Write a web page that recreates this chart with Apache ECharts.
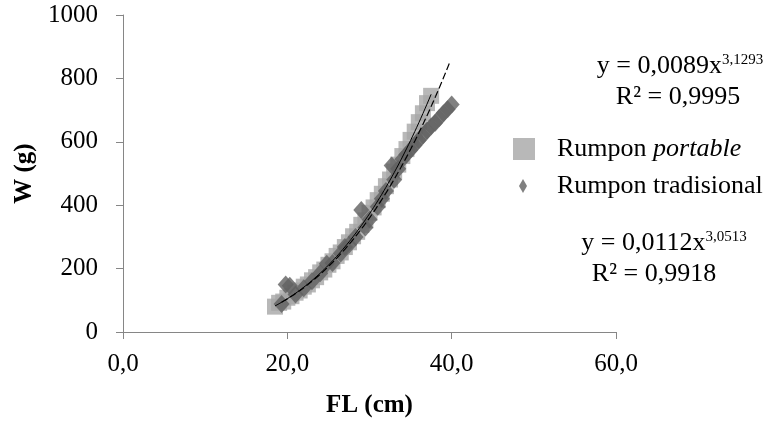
<!DOCTYPE html>
<html>
<head>
<meta charset="utf-8">
<script src="https://cdn.jsdelivr.net/npm/echarts@6/dist/echarts.min.js"></script>
<style>
  html, body { margin: 0; padding: 0; background: #fff; }
  #chart { width: 773px; height: 423px; }
</style>
</head>
<body>
<div id="chart"></div>
<script>
// FL (cm) vs W (g), two kinds of rumpon
var seriesNames = ['Rumpon portable', 'Rumpon tradisional'];

// Rumpon portable (light squares)
var portableFL = [18.5, 19, 19.5, 20, 20.5, 21, 21.5, 22, 22.5, 23, 23.5, 24, 24.5, 25, 25.5, 26, 26.5, 27, 27.5, 28,
  28.5, 29, 29.5, 30, 30.5, 31, 31.5, 32, 32.5, 33, 33.5, 34, 34.5, 35, 35.5, 36, 36.5, 37, 37.5];
var portableW = [80, 92, 96, 108, 113, 124, 131, 143, 150, 163, 173, 188, 197, 212, 223, 240, 251, 268, 283, 302,
  316, 338, 352, 376, 393, 416, 436, 460, 481, 506, 528, 555, 577, 606, 632, 662, 690, 722, 745];

// Rumpon tradisional (dark diamonds)
var tradFL = [19.3, 19.8, 20.3, 21, 22, 23, 24, 24.8, 25.5, 26.5, 27, 27.5, 28.3, 29, 29.5, 30, 31, 31.5, 32, 32.7,
  33, 33.5, 34, 34.5, 35, 35.5, 36, 36.5, 37, 37.5, 38, 38.5, 39, 39.5, 40];
var tradW = [88, 150, 146, 118, 138, 160, 185, 215, 218, 248, 268, 275, 300, 385, 330, 355, 395, 420, 445, 525,
  480, 515, 545, 560, 575, 590, 605, 620, 635, 648, 660, 675, 690, 703, 718];

// power trendlines y = a * x^b as printed on the chart
var fitA = [0.0089, 0.0112];
var fitB = [3.1293, 3.0513];
var fitR2 = ['0,9995', '0,9918'];
var fitFrom = [18.5, 19.3];
var fitTo = [37.5, 40];

var xTicks = [0, 20, 40, 60];
var yTicks = [0, 200, 400, 600, 800, 1000];

function pairs(xs, ys) {
  return xs.map(function(x, i) { return [x, ys[i]]; });
}
function trend(k) {
  var pts = [];
  for (var x = fitFrom[k]; x <= fitTo[k] + 1e-9; x += 0.25) {
    pts.push([x, fitA[k] * Math.pow(x, fitB[k])]);
  }
  return pts;
}
function comma(v, d) {
  return v.toFixed(d).replace('.', ',');
}

var serif = 'Liberation Serif, Times New Roman, serif';
var eqRich = {
  n: { fontFamily: serif, fontSize: 26, fill: '#000', color: '#000' },
  s: { fontFamily: serif, fontSize: 15, fill: '#000', color: '#000', verticalAlign: 'top' }
};
function eqText(k, x, y) {
  return {
    type: 'text', x: x, y: y,
    style: {
      text: '{n|y = ' + comma(fitA[k], 4) + 'x}{s|' + comma(fitB[k], 4) + '}',
      rich: eqRich, align: 'center', verticalAlign: 'middle'
    }
  };
}
function r2Text(k, x, y) {
  return {
    type: 'text', x: x, y: y,
    style: {
      text: 'R² = ' + fitR2[k], font: '26px ' + serif, fill: '#000',
      align: 'center', verticalAlign: 'middle'
    }
  };
}

var chart = echarts.init(document.getElementById('chart'));
chart.setOption({
  animation: false,
  backgroundColor: '#fff',
  grid: { left: 123, right: 157, top: 15, bottom: 88 },
  xAxis: {
    type: 'value',
    min: xTicks[0],
    max: xTicks[xTicks.length - 1],
    interval: 20,
    name: 'FL (cm)',
    nameLocation: 'middle',
    nameGap: 61,
    nameTextStyle: { fontFamily: serif, fontSize: 25, fontWeight: 'bold', color: '#000' },
    axisLine: { lineStyle: { color: '#868686', width: 1 } },
    axisTick: { show: true, length: 7, lineStyle: { color: '#868686' } },
    splitLine: { show: false },
    axisLabel: {
      margin: 20,
      fontFamily: serif, fontSize: 25, color: '#000',
      formatter: function(v) { return comma(v, 1); }
    }
  },
  yAxis: {
    type: 'value',
    min: yTicks[0],
    max: yTicks[yTicks.length - 1],
    interval: 200,
    name: 'W (g)',
    nameLocation: 'middle',
    nameGap: 86,
    nameTextStyle: { fontFamily: serif, fontSize: 25, fontWeight: 'bold', color: '#000' },
    axisLine: { show: true, lineStyle: { color: '#868686', width: 1 } },
    axisTick: { show: true, length: 7, lineStyle: { color: '#868686' } },
    splitLine: { show: false },
    axisLabel: {
      margin: 25, fontFamily: serif, fontSize: 25, color: '#000',
      formatter: function(v) { return String(v); }
    }
  },
  legend: [
    {
      data: [seriesNames[0]],
      left: 508, top: 131,
      itemWidth: 22, itemHeight: 22,
      icon: 'rect',
      formatter: function() { return 'Rumpon {i|portable}'; },
      textStyle: {
        fontFamily: serif, fontSize: 26, color: '#000', padding: [0, 0, 0, 17],
        rich: { i: { fontFamily: serif, fontSize: 26, fontStyle: 'italic', color: '#000' } }
      }
    },
    {
      data: [seriesNames[1]],
      left: 514, top: 168,
      itemWidth: 8, itemHeight: 14,
      icon: 'diamond',
      textStyle: { fontFamily: serif, fontSize: 26, color: '#000', padding: [0, 0, 0, 25] }
    }
  ],
  graphic: [
    eqText(0, 680, 66),
    r2Text(0, 678, 97),
    eqText(1, 664, 243),
    r2Text(1, 654, 274)
  ],
  series: [
    {
      name: seriesNames[0],
      type: 'scatter',
      symbol: 'rect',
      symbolSize: 16,
      itemStyle: { color: '#a6a6a6' },
      data: pairs(portableFL, portableW)
    },
    {
      name: seriesNames[1],
      type: 'scatter',
      symbol: 'diamond',
      symbolSize: [16, 18],
      itemStyle: { color: '#606060' },
      data: pairs(tradFL, tradW)
    },
    {
      name: 'fit portable',
      type: 'line',
      showSymbol: false,
      lineStyle: { color: '#000', width: 1 },
      data: trend(0),
      z: 5
    },
    {
      name: 'fit tradisional',
      type: 'line',
      showSymbol: false,
      lineStyle: { color: '#000', width: 1.2, type: [7, 3] },
      data: trend(1),
      z: 5
    }
  ]
});
</script>
</body>
</html>
